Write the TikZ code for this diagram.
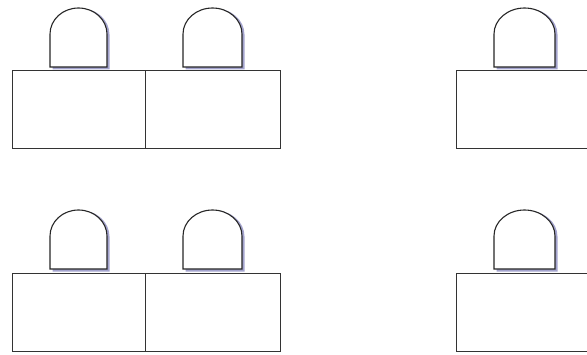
\documentclass[tikz,border=0pt]{standalone}
\usetikzlibrary{calc}
\begin{document}
\begin{tikzpicture}[
  x=1pt, y=1pt,
  desk/.style={draw=black!80, line width=0.8pt, fill=white},
  chair/.style={draw=black!85, line width=1.1pt, fill=white},
  chairshade/.style={draw=none, fill=blue!30!gray!55}
]
  % Picture is 587 x 354, y counted from the bottom.
  \useasboundingbox (0,0) rectangle (587,354);
  \clip (0,0) rectangle (587,354);
  \foreach \dy/\cy in {206/287, 3/85} {
    % desks: a pair on the left, one cut off on the right
    \draw[desk] (12,\dy) rectangle (145,\dy+78);
    \draw[desk] (145,\dy) rectangle (280,\dy+78);
    \draw[desk] (456,\dy) rectangle (595,\dy+78);
    % chairs behind the desks
    \foreach \cx/\w in {50/57, 183/59, 494/61} {
      \fill[chairshade] (\cx+2.5,\cy-2.5) -- ++(0,35)
        arc[start angle=180, end angle=0, x radius=\w/2, y radius=26]
        -- ++(0,-35) -- cycle;
      \draw[chair] (\cx,\cy) -- ++(0,33)
        arc[start angle=180, end angle=0, x radius=\w/2, y radius=26]
        -- ++(0,-33) -- cycle;
    }
  }
\end{tikzpicture}
\end{document}
